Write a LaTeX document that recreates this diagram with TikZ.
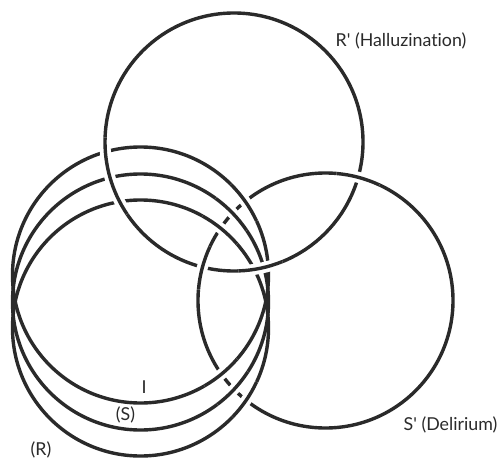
\documentclass[tikz,border=0pt]{standalone}
\usepackage{fontspec}
\newfontfamily\lblfont{Lato}[Ligatures={NoCommon}]
\definecolor{ink}{HTML}{2A2A2A}
% an arc of a ring that passes over the rings beneath it:
% a white halo first, then the ring line again
\newcommand\overarc[4]{%
  \draw[halo] (#1) ++(#3:#2) arc[start angle=#3, end angle=#4, radius=#2];
  \draw[ring] (#1) ++(#3:#2) arc[start angle=#3, end angle=#4, radius=#2];}
\begin{document}
\begin{tikzpicture}[x=1pt,y=1pt,
  ring/.style={line width=3.4pt, draw=ink},
  halo/.style={line width=11pt, draw=white},
  lbl/.style={font=\lblfont\fontsize{17.8}{20}\selectfont, text=ink, inner sep=0pt}]
\fill[white] (0,0) rectangle (503,459);
\useasboundingbox (0,0) rectangle (503,459);

% ring centres
\coordinate (cA) at (140.5,184);
\coordinate (cB) at (140.5,157);
\coordinate (cC) at (140.5,131);
\coordinate (cR) at (234,317);
\coordinate (cS) at (325.5,158.5);

% the five rings
\draw[ring] (cA) circle[radius=128pt];
\draw[ring] (cB) circle[radius=128pt];
\draw[ring] (cC) circle[radius=128pt];
\draw[ring] (cR) circle[radius=129pt];
\draw[ring] (cS) circle[radius=127.5pt];

% the three left rings pass over S'
\overarc{cA}{128pt}{25}{45}
\overarc{cA}{128pt}{-60}{-41}
\overarc{cB}{128pt}{34}{54}
\overarc{cB}{128pt}{-53}{-33}
\overarc{cC}{128pt}{41}{61}
\overarc{cC}{128pt}{-44}{-25}

% R' passes over the three left rings
\overarc{cR}{129pt}{178}{214}
\overarc{cR}{129pt}{272}{292}

% S' passes over R'
\overarc{cS}{127.5pt}{155}{175}
\overarc{cS}{127.5pt}{65}{85}

% labels
\node[lbl] (lR2) at (401,418) {R' (Halluzination)};
\node[lbl] (lS2) at (450.5,34.5) {S' (Delirium)};
\node[lbl] (lR) at (41,9.5) {(R)};
\node[lbl] (lS) at (125.5,44) {(S)};
\node[lbl] (lI) at (144,72) {I};
\end{tikzpicture}
\end{document}
